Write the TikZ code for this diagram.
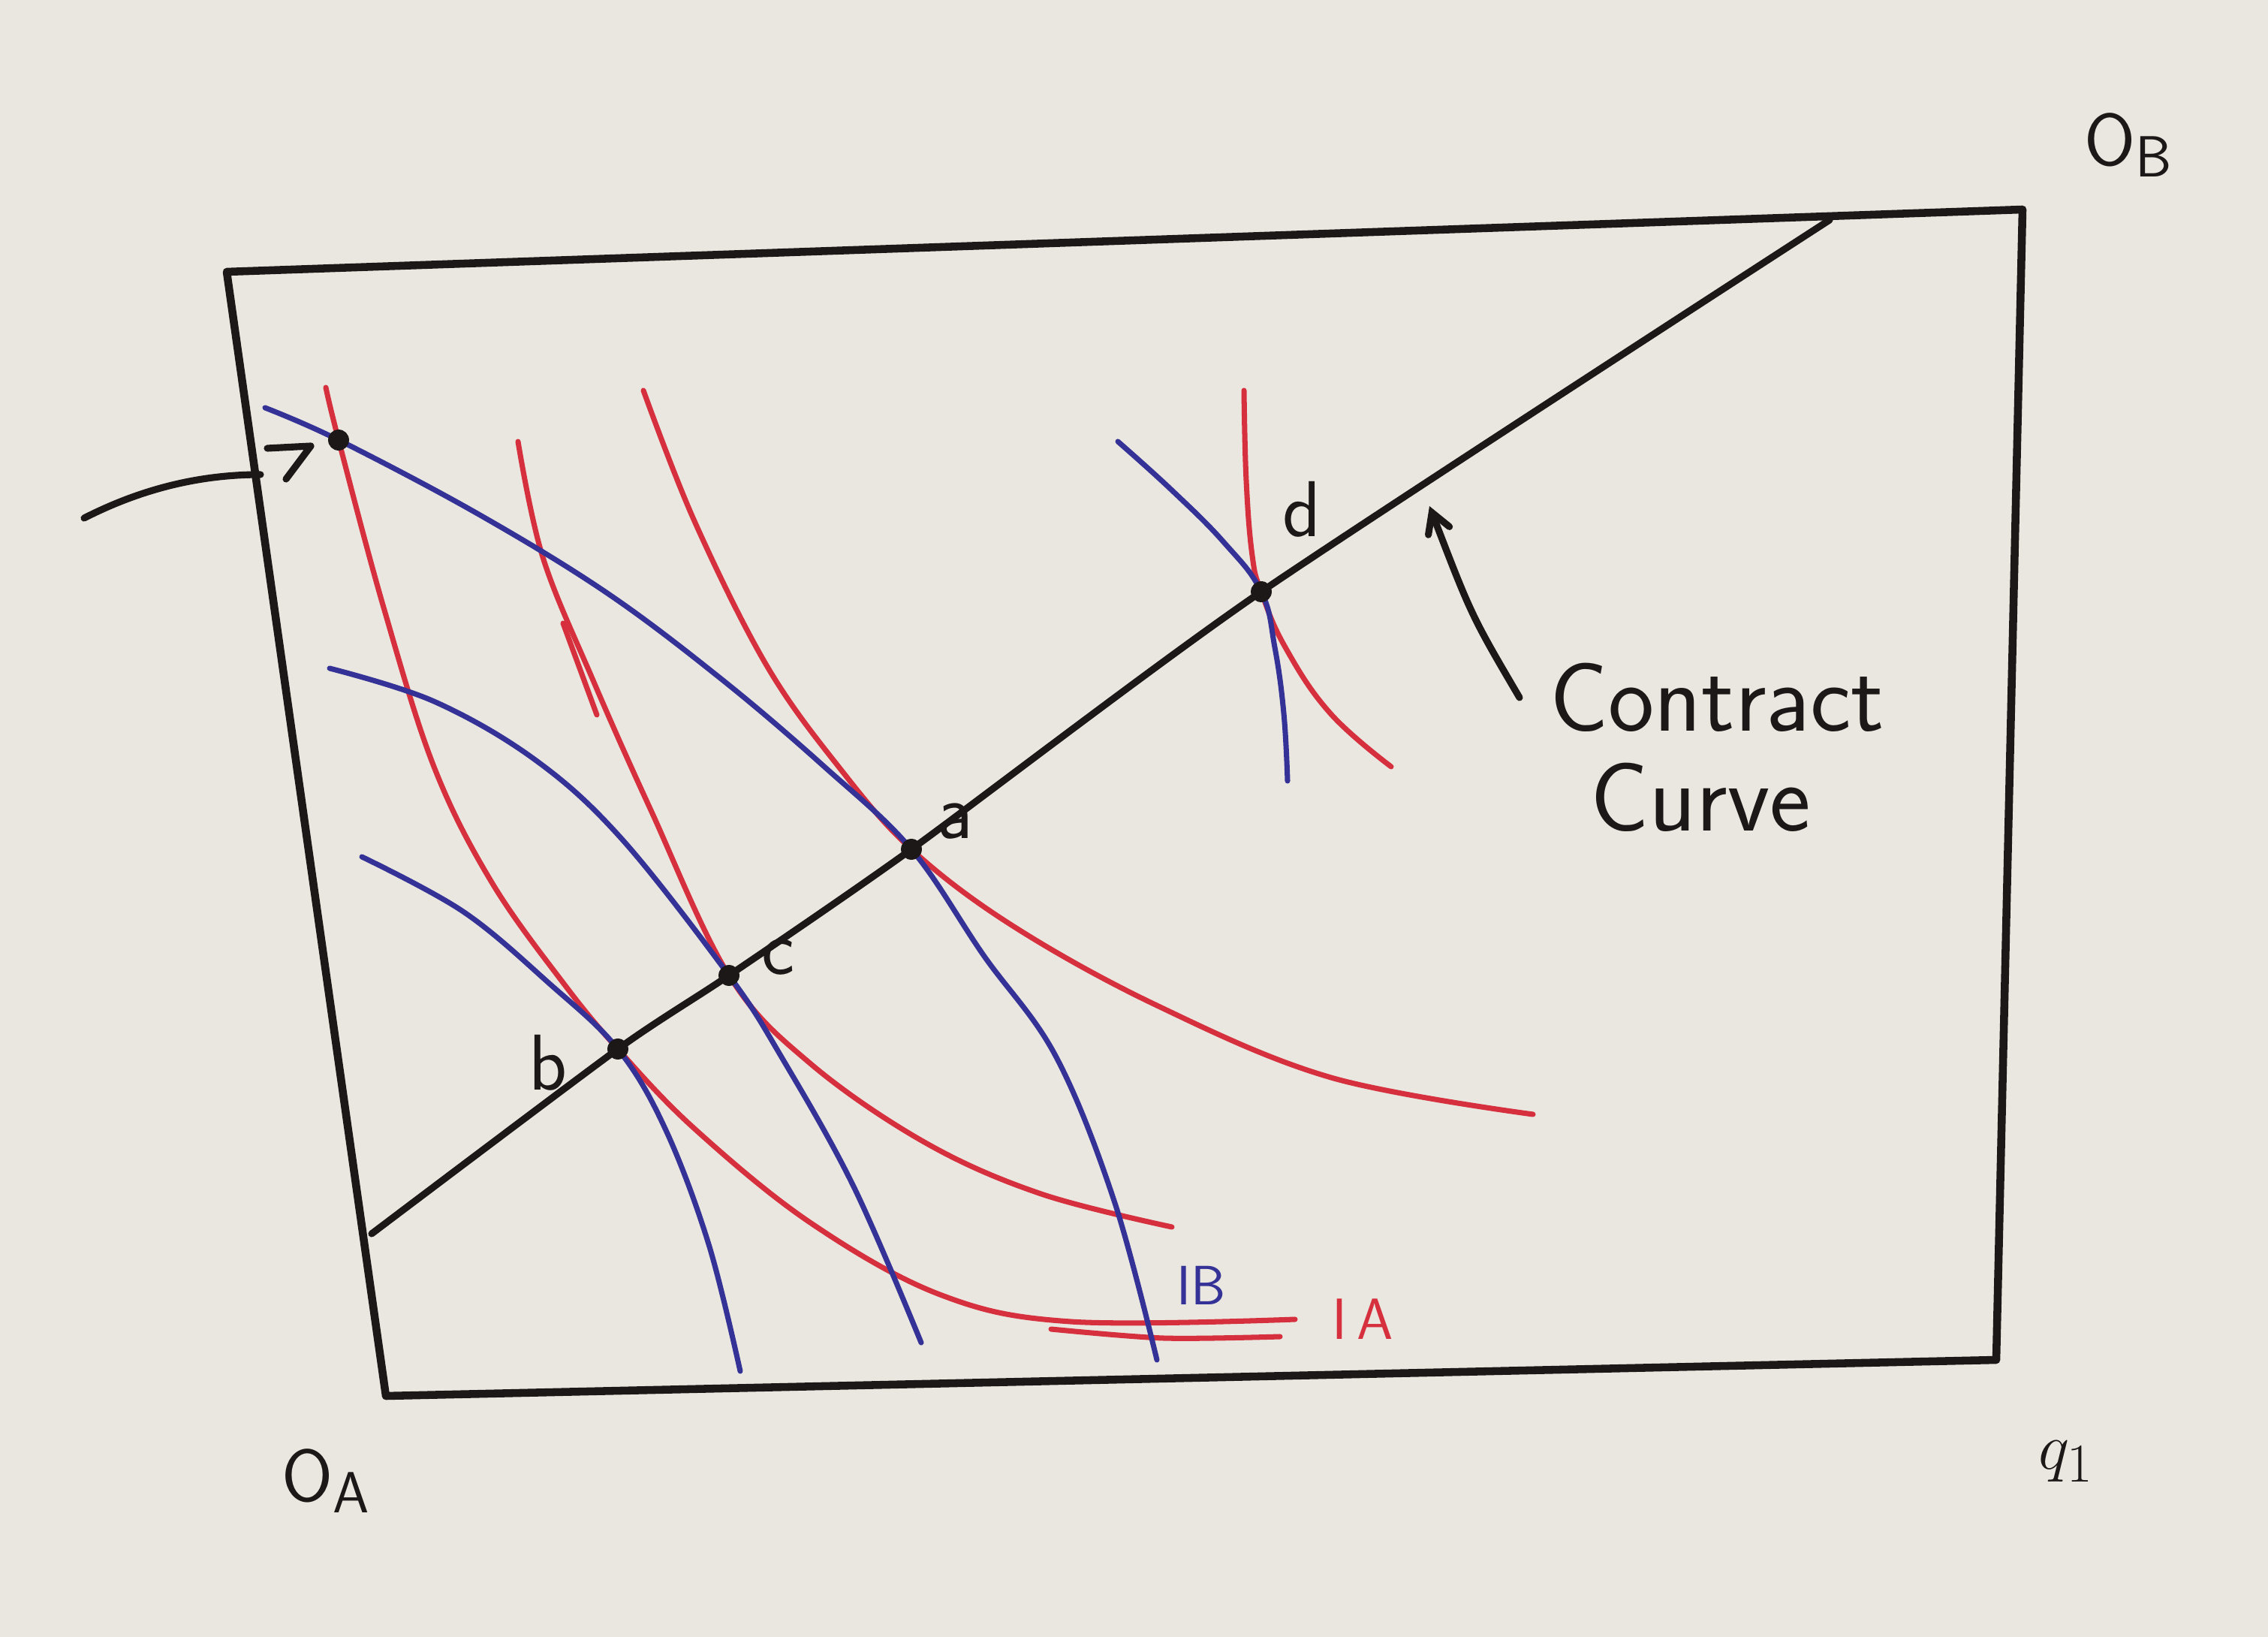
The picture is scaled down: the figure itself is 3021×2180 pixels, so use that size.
\documentclass[tikz,border=0pt]{standalone}
\usepackage{tikz}
\usetikzlibrary{arrows}
\definecolor{paper}{RGB}{234,231,224}
\definecolor{ink}{RGB}{28,24,24}
\definecolor{penred}{RGB}{214,48,62}
\definecolor{penblue}{RGB}{52,50,150}

\begin{document}
\begin{tikzpicture}[x=0.01cm,y=-0.01cm,font=\sffamily]
	\tikzstyle{edgebox}=[draw=ink,line width=3pt,line join=round]
	\tikzstyle{ia}=[draw=penred,line width=2pt,line cap=round]
	\tikzstyle{ib}=[draw=penblue,line width=2pt,line cap=round]
	\tikzstyle{contract}=[draw=ink,line width=2.6pt,line cap=round]
	\tikzstyle{dot}=[circle,fill=ink,inner sep=0pt,minimum size=28pt*0.01/0.0353]
	\tikzstyle{pt}=[text=ink,font=\sffamily\fontsize{30}{34}\selectfont]
	\tikzstyle{big}=[text=ink,font=\sffamily\fontsize{37}{42}\selectfont,anchor=west]
	\fill[paper] (0,0) rectangle (3021,2180);
	\useasboundingbox (0,0) rectangle (3021,2180);
	\draw[edgebox] (302,362) -- (2694,279) -- (2659,1811) -- (514,1859) -- cycle;
	\coordinate (ccstart) at (495,1643);
	\coordinate (ccend) at (2437,293);
	\coordinate (e) at (451,586);
	\coordinate (b) at (823,1397);
	\coordinate (c) at (971,1299);
	\coordinate (a) at (1214,1131);
	\coordinate (d) at (1680,788);
	\draw[ia] plot[smooth,tension=0.6] coordinates {(434,516) (e) (511,809) (578,1021) (655,1175) (751,1310) (b) (925,1503) (1079,1628) (1252,1724) (1426,1760) (1725,1757)};
	\draw[ia] plot[smooth] coordinates {(1400,1770) (1550,1782) (1705,1780)};
	\draw[ia] plot[smooth,tension=0.6] coordinates {(690,588) (723,742) (790,906) (867,1079) (c) (1079,1416) (1233,1522) (1387,1590) (1561,1634)};
	\draw[ia] (750,830) -- (795,952);
	\draw[ia] plot[smooth,tension=0.6] coordinates {(857,520) (925,694) (1021,886) (1117,1021) (a) (1349,1233) (1541,1339) (1773,1435) (2042,1484)};
	\draw[ia] plot[smooth,tension=0.7] coordinates {(1657,520) (1660,640) (1668,740) (d) (1712,862) (1772,950) (1853,1021)};
	\draw[ib] plot[smooth,tension=0.6] coordinates {(353,543) (e) (636,684) (809,790) (963,906) (1098,1021) (a) (1310,1272) (1406,1406) (1484,1599) (1541,1811)};
	\draw[ib] plot[smooth,tension=0.6] coordinates {(439,890) (578,934) (713,1012) (828,1117) (c) (1040,1406) (1137,1580) (1227,1788)};
	\draw[ib] plot[smooth,tension=0.6] coordinates {(482,1141) (617,1214) (732,1310) (b) (886,1503) (944,1657) (986,1826)};
	\draw[ib] plot[smooth,tension=0.7] coordinates {(1489,588) (1560,652) (1630,722) (d) (1698,862) (1710,950) (1715,1040)};
	\draw[contract] plot[smooth,tension=0.4] coordinates {(ccstart) (b) (c) (a) (d) (ccend)};
	\node[dot] (edot) at (e) {};
	\node[dot] (bdot) at (b) {};
	\node[dot] (cdot) at (c) {};
	\node[dot] (adot) at (a) {};
	\node[dot] (ddot) at (d) {};
	\node[pt] (blabel) at (730,1415) {b};
	\node[pt] (clabel) at (1037,1275) {c};
	\node[pt] (alabel) at (1272,1094) {a};
	\node[pt] (dlabel) at (1734,678) {d};
	\coordinate (callout) at (112,690);
	\coordinate (boxside) at (347,632);
	\draw[contract] (callout) .. controls (200,645) and (280,632) .. (boxside);
	\draw[contract,line join=round] (356,597) -- (414,594) -- (381,638);
	\node[big] (ccone) at (2052,929) {Contract};
	\node[big] (cctwo) at (2106,1062) {Curve};
	\coordinate (tipcc) at (1904,674);
	\draw[contract,-angle 60] (ccone.west) ++(-28,0) coordinate (tailcc) .. controls (1960,820) .. (tipcc);
	\node[text=ink,font=\sffamily\fontsize{28}{32}\selectfont] (ob) at (2835,193) {O\raisebox{-0.35ex}{\fontsize{22}{24}\selectfont B}};
	\node[text=ink,font=\sffamily\fontsize{28}{32}\selectfont] (oa) at (434,1972) {O\raisebox{-0.35ex}{\fontsize{22}{24}\selectfont A}};
	\node[text=ink,font=\fontsize{30}{34}\selectfont] (qone) at (2752,1946) {$q_1$};
	\node[text=penblue,font=\sffamily\fontsize{21}{24}\selectfont] (iblabel) at (1600,1712) {IB};
	\node[text=penred,font=\sffamily\fontsize{22}{26}\selectfont] (ialabel) at (1815,1757) {I\,A};
\end{tikzpicture}
\end{document}
